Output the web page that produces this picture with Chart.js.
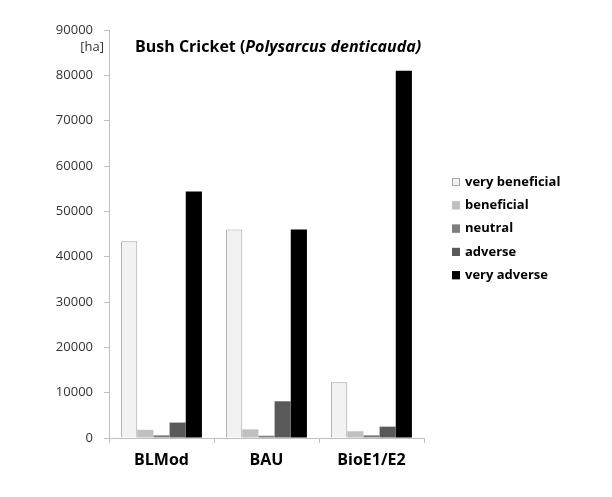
<!DOCTYPE html>
<html>
<head>
<meta charset="utf-8">
<script src="https://cdn.jsdelivr.net/npm/chart.js@4"></script>
<style>
  html, body { margin: 0; padding: 0; background: #fff; }
  #wrap { width: 612px; height: 497px; }
</style>
</head>
<body>
<div id="wrap"><canvas id="chart" width="612" height="497"></canvas></div>
<script>
// scenarios on the x axis
const scenarios = ["BLMod", "BAU", "BioE1/E2"];
// impact classes (legend)
const classes = ["very beneficial", "beneficial", "neutral", "adverse", "very adverse"];
// area in ha per class, one value per scenario
const veryBeneficial = [43400, 46000, 12300];
const beneficial = [1800, 1900, 1500];
const neutral = [600, 500, 600];
const adverse = [3400, 8100, 2500];
const veryAdverse = [54400, 46000, 81000];
const yTicks = [0, 10000, 20000, 30000, 40000, 50000, 60000, 70000, 80000, 90000];

const FONT = "'Open Sans', sans-serif";
const fills = ["#f2f2f2", "#c0c0c0", "#7f7f7f", "#595959", "#000000"];
const borders = ["#a6a6a6", "#c0c0c0", "#7f7f7f", "#595959", "#000000"];
const series = [veryBeneficial, beneficial, neutral, adverse, veryAdverse];

// title with italic species name, and the unit label
const titlePlugin = {
  id: "titleText",
  afterDraw(chart) {
    const ctx = chart.ctx;
    ctx.save();
    ctx.fillStyle = "#000";
    ctx.textBaseline = "middle";
    let x = 135, y = 47;
    ctx.font = "bold 16px " + FONT;
    ctx.fillText("Bush Cricket (", x, y);
    x += ctx.measureText("Bush Cricket (").width;
    ctx.font = "italic bold 16px " + FONT;
    ctx.fillText("Polysarcus denticauda)", x, y);
    ctx.font = "13px " + FONT;
    ctx.fillStyle = "#333";
    ctx.textAlign = "right";
    ctx.fillText("[ha]", 104, 47);
    ctx.restore();
  }
};

// legend at the right, from the datasets
const legendPlugin = {
  id: "sideLegend",
  afterDraw(chart) {
    const ctx = chart.ctx;
    ctx.save();
    ctx.textBaseline = "middle";
    ctx.font = "bold 13px " + FONT;
    chart.data.datasets.forEach((ds, i) => {
      const y = 182 + i * 23.3;
      ctx.fillStyle = ds.backgroundColor;
      ctx.fillRect(452, y - 4, 8, 8);
      ctx.strokeStyle = ds.borderColor;
      ctx.lineWidth = 1;
      ctx.strokeRect(452.5, y - 3.5, 7, 7);
      ctx.fillStyle = "#000";
      ctx.fillText(ds.label, 465, y);
    });
    ctx.restore();
  }
};

new Chart(document.getElementById("chart"), {
  type: "bar",
  data: {
    labels: scenarios,
    datasets: classes.map((c, i) => ({
      label: c,
      data: series[i],
      backgroundColor: fills[i],
      borderColor: borders[i],
      borderWidth: i === 0 ? 1 : 0,
      categoryPercentage: 0.77,
      barPercentage: 1.0
    }))
  },
  options: {
    responsive: false,
    animation: false,
    layout: { padding: { top: 30, right: 188, left: 0, bottom: 0 } },
    plugins: {
      legend: { display: false },
      title: { display: false },
      tooltip: { enabled: false }
    },
    scales: {
      x: {
        grid: { display: true, drawOnChartArea: false, offset: true, color: "#bfbfbf", tickLength: 5 },
        border: { color: "#bfbfbf" },
        ticks: { font: { family: FONT, size: 16, weight: "bold" }, color: "#000", padding: 8 },
        afterFit(s) { s.height = 59; }
      },
      y: {
        min: 0,
        max: 90000,
        afterBuildTicks(s) { s.ticks = yTicks.map(v => ({ value: v })); },
        grid: { display: true, drawOnChartArea: false, color: "#bfbfbf", tickLength: 5 },
        border: { color: "#bfbfbf" },
        ticks: {
          font: { family: FONT, size: 13 },
          color: "#333",
          padding: 11,
          callback: v => String(v)
        },
        afterFit(s) { s.width = 109; }
      }
    }
  },
  plugins: [titlePlugin, legendPlugin]
});
</script>
</body>
</html>
